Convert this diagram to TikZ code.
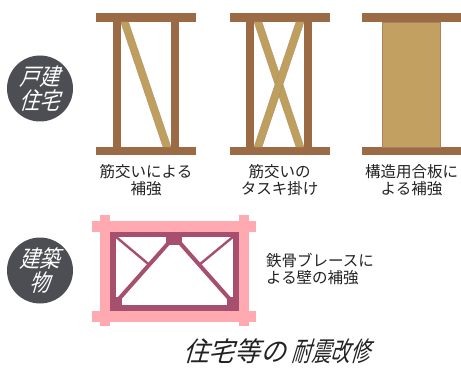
\documentclass[tikz,border=0pt]{standalone}
\usepackage{fontspec}
\setmainfont{Noto Sans CJK JP}
\newfontfamily\badgejp[FakeSlant=0.3,FakeStretch=0.86]{Noto Sans CJK JP}
\newfontfamily\titlejp[FakeSlant=0.3,FakeStretch=0.95]{Noto Sans CJK JP}
\newfontfamily\titlenarrowjp[FakeSlant=0.3,FakeStretch=0.72]{Noto Sans CJK JP}
\usepackage{xcolor}
\usepackage{tikz}
\usetikzlibrary{positioning}
\definecolor{timber}{HTML}{9B6B45}
\definecolor{brace}{HTML}{BE9F5E}
\definecolor{plywood}{HTML}{C1A062}
\definecolor{badgegray}{HTML}{4D4E53}
\definecolor{column}{HTML}{FFA9B0}
\definecolor{steel}{HTML}{A64F6E}
\definecolor{ink}{HTML}{222222}

\begin{document}
\begin{tikzpicture}[
  x=1pt,y=-1pt,
  badge/.style={circle,fill=badgegray,minimum size=66pt,inner sep=0pt,text=white,align=center,
    font=\badgejp\fontsize{23.5}{24}\selectfont},
  caption/.style={text=ink,align=center,font=\fontsize{15.5}{17}\selectfont,inner sep=0pt},
  woodbrace/.style={fill=brace,draw=timber!80,line width=0.3pt},
  beam/.style={fill=timber}
]
\useasboundingbox (0,0) rectangle (461,369);

% wooden frames
% single brace
\fill[beam] (96,13) rectangle (196,22);
\fill[beam] (96,147) rectangle (196,155);
\filldraw[woodbrace] (120.7,22) -- (128.5,22) -- (171,147) -- (163,147) -- cycle;
\fill[beam] (112.7,22) rectangle (120.7,147);
\fill[beam] (171,22) rectangle (179,147);
\node[caption] (single) at (146,180.5) {筋交いによる\\補強};

% cross braces
\fill[beam] (229.5,13) rectangle (329.5,22);
\fill[beam] (229.5,147) rectangle (329.5,155);
\filldraw[woodbrace] (254,22) -- (262,22) -- (304,147) -- (296,147) -- cycle;
\filldraw[woodbrace] (296,22) -- (304,22) -- (262,147) -- (254,147) -- cycle;
\fill[beam] (246,22) rectangle (254,147);
\fill[beam] (304,22) rectangle (312,147);
\node[caption] (cross) at (279.5,180.5) {筋交いの\\タスキ掛け};

% structural plywood
\fill[beam] (362,13) rectangle (461,22);
\fill[beam] (362,147) rectangle (461,155);
\filldraw[fill=plywood,draw=timber!85,line width=0.5pt] (382.3,22) rectangle (440.7,147);
\node[caption] (plywood) at (411.5,180.5) {構造用合板に\\よる補強};

% steel brace frame
\fill[column] (100,215) rectangle (110,326);
\fill[column] (239,215) rectangle (248.5,326);
\fill[column] (92,221) rectangle (256,232);
\fill[column] (92,311) rectangle (256,322);
\fill[steel] (110,232) rectangle (239,311);
\fill[white] (115.7,236.7) rectangle (233.3,305);
\begin{scope}
  \clip (115.7,236.7) rectangle (233.3,305);
  \draw[steel,line width=4pt] (168.5,243) -- (118,300);
  \draw[steel,line width=4pt] (180,243) -- (230.5,300);
  \draw[steel,line width=2.4pt] (115,236) -- (149.5,265);
  \draw[steel,line width=2.4pt] (234,236) -- (199,265);
\end{scope}
\fill[steel] (166,236) rectangle (182.3,245);
\fill[steel] (115.7,297) rectangle (121.7,305);
\fill[steel] (227.3,297) rectangle (233.3,305);
\node[caption,align=left,anchor=west] (steelnote) at (266,269.5) {鉄骨ブレースに\\よる壁の補強};

% category badges
\node[badge] (house) at (40,88.5) {戸建\\住宅};
\node[badge] (building) at (40,270.5) {建築\\物};

% title
\node[text=ink,inner sep=0pt,font=\fontsize{27}{28}\selectfont] (title) at (276.5,351.5)
  {\titlejp 住宅等の\hspace{6pt}\titlenarrowjp 耐震改修};
\end{tikzpicture}
\end{document}
